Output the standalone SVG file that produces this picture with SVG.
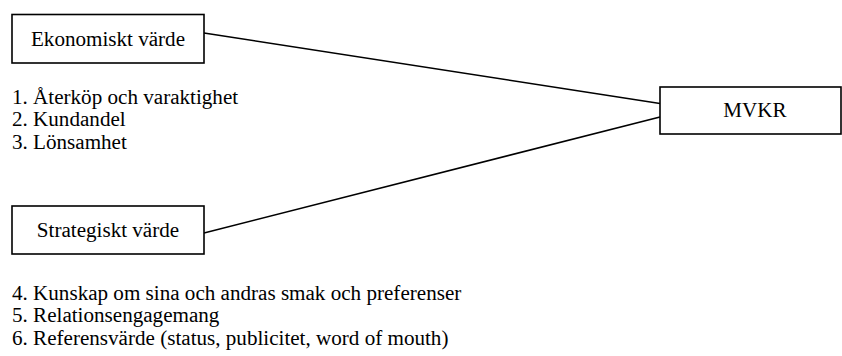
<svg xmlns="http://www.w3.org/2000/svg" width="842" height="356" viewBox="0 0 842 356">
  <style>
    .box { fill: #fff; stroke: #000; stroke-width: 1.6; }
    .link { stroke: #000; stroke-width: 1.6; fill: none; }
    text { font-family: "Liberation Serif", "Times New Roman", serif; font-size: 21.1px; fill: #000; }
    .c { text-anchor: middle; }
  </style>
  <rect width="842" height="356" fill="#fff"/>
  <!-- connectors from the two value boxes to MVKR -->
  <g id="connectors">
    <line class="link" x1="204" y1="33" x2="660" y2="103.5"/>
    <line class="link" x1="204" y1="233" x2="660" y2="117"/>
  </g>
  <g id="ekonomiskt">
    <rect class="box" x="12" y="14.5" width="192" height="48.5"/>
    <text class="c" x="108" y="46">Ekonomiskt värde</text>
  </g>
  <g id="strategiskt">
    <rect class="box" x="12" y="206" width="192" height="48"/>
    <text class="c" x="108" y="237">Strategiskt värde</text>
  </g>
  <g id="mvkr">
    <rect class="box" x="660" y="87" width="181" height="47"/>
    <text class="c" x="755" y="117">MVKR</text>
  </g>
  <g id="list-economic">
    <text x="12" y="103.5">1. Återköp och varaktighet</text>
    <text x="12" y="126">2. Kundandel</text>
    <text x="12" y="148.5">3. Lönsamhet</text>
  </g>
  <g id="list-strategic">
    <text x="12" y="299.5">4. Kunskap om sina och andras smak och preferenser</text>
    <text x="12" y="322">5. Relationsengagemang</text>
    <text x="12" y="344.5">6. Referensvärde (status, publicitet, word of mouth)</text>
  </g>
</svg>
